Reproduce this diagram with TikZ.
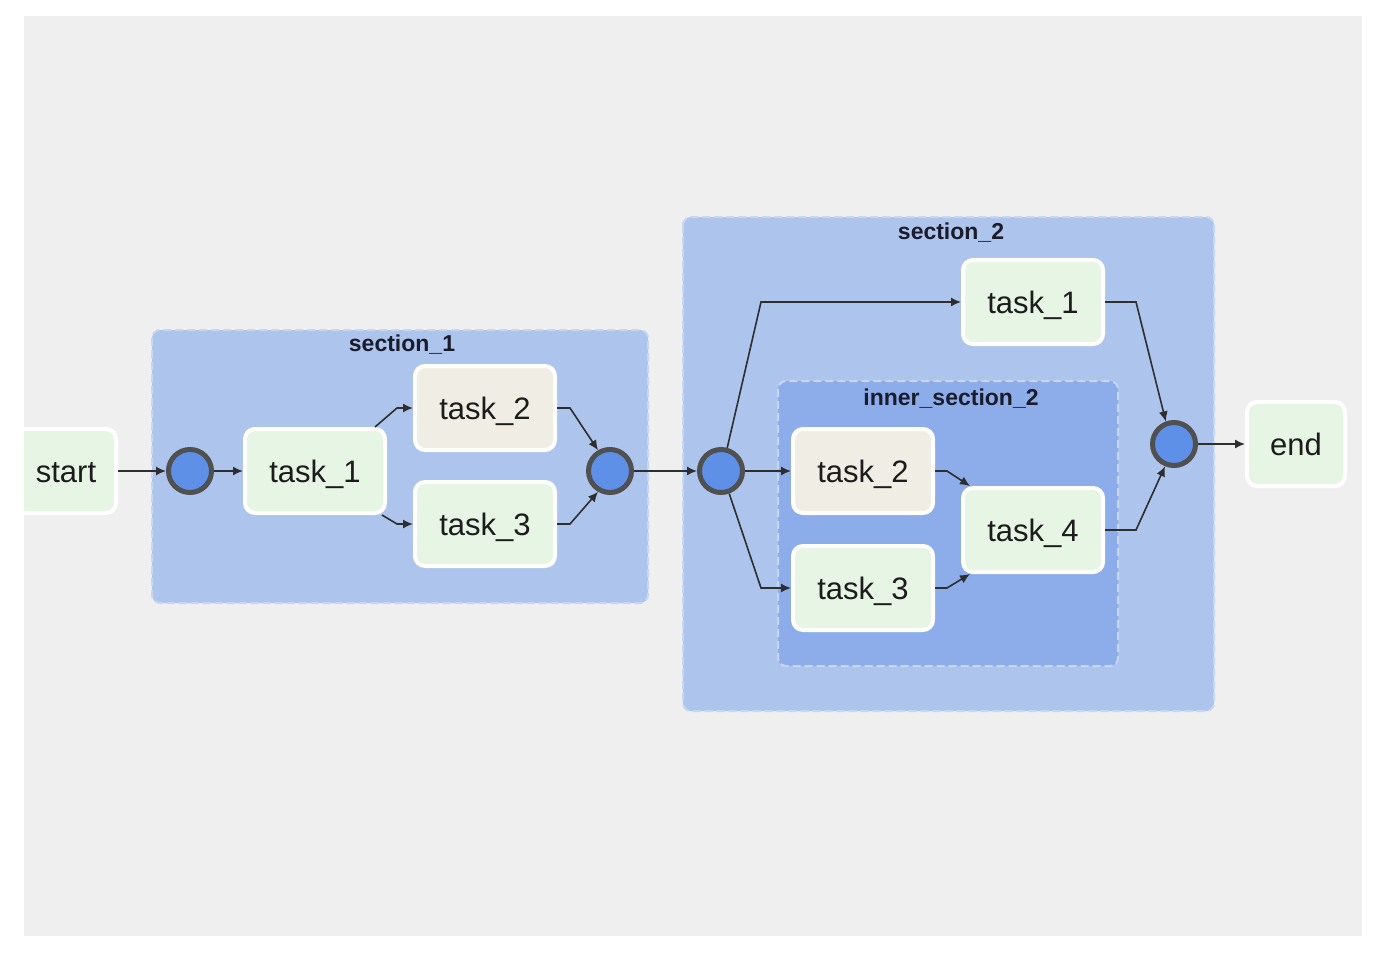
\documentclass[tikz,border=0pt]{standalone}
\usepackage{fontspec}
\setmainfont{Liberation Sans}
\usetikzlibrary{arrows.meta}
\definecolor{bggray}{HTML}{EFEFEF}
\definecolor{secfill}{HTML}{ADC4EC}
\definecolor{innerfill}{HTML}{8CADEA}
\definecolor{secborder}{HTML}{C8D6F2}
\definecolor{taskgreen}{HTML}{E6F5E4}
\definecolor{taskbeige}{HTML}{F0EDE5}
\definecolor{joinfill}{HTML}{5F90E8}
\definecolor{joinring}{HTML}{505050}
\definecolor{edgecol}{HTML}{2E2E2E}
\definecolor{txt}{HTML}{1C1C1C}
\definecolor{labtxt}{HTML}{1A1C2C}
\begin{document}
\begin{tikzpicture}[x=0.5pt,y=-0.5pt,
 task/.style={draw=white, line width=2pt, rounded corners=5pt, minimum width=70pt, minimum height=42pt, fill=taskgreen, font=\fontsize{15.5}{18}\selectfont, text=txt, inner sep=0pt, text height=11.3pt, text depth=0pt},
 beige/.style={fill=taskbeige},
 joinpt/.style={circle, draw=joinring, line width=2.5pt, fill=joinfill, minimum size=21.5pt, inner sep=0pt},
 sect/.style={fill=secfill, draw=secborder, line width=1pt, dash pattern=on 4pt off 2pt, rounded corners=4pt},
 innersect/.style={sect, fill=innerfill},
 seclabel/.style={font=\bfseries\fontsize{11.5}{13}\selectfont, text=labtxt},
 arr/.style={draw=edgecol, line width=0.8pt, -{Latex[length=5pt,width=4.5pt]}},
]
\useasboundingbox (0,0) rectangle (1384,952);
\fill[white] (0,0) rectangle (1384,952);
\fill[bggray] (24,16) rectangle (1362,936);

% sections
\draw[sect] (152,330) rectangle (648,603);
\node[seclabel] (s1lab) at (402,345) {section\_1};
\draw[sect] (683,217) rectangle (1214,711);
\node[seclabel] (s2lab) at (951,233) {section\_2};
\draw[innersect] (778,381) rectangle (1118,666);
\node[seclabel] (islab) at (951,399) {inner\_section\_2};

% nodes
\begin{scope}
\clip (24,16) rectangle (1362,936);
\node[task, minimum width=50pt] (start) at (66,471) {start};
\end{scope}
\node[joinpt] (c1) at (190,471) {};
\node[task] (s1t1) at (315,471) {task\_1};
\node[task, beige] (s1t2) at (485,408) {task\_2};
\node[task] (s1t3) at (485,524) {task\_3};
\node[joinpt] (c2) at (610,471) {};
\node[joinpt] (c3) at (721,471) {};
\node[task] (s2t1) at (1033,302) {task\_1};
\node[task, beige] (s2t2) at (863,471) {task\_2};
\node[task] (s2t3) at (863,588) {task\_3};
\node[task] (s2t4) at (1033,530) {task\_4};
\node[joinpt] (c4) at (1174,444) {};
\node[task, minimum width=49pt] (end) at (1296,444) {end};

% edges
\draw[arr] (start.east) -- (c1.west);
\draw[arr] (c1.east) -- (s1t1.west);
\draw[arr] ([xshift=-6pt]s1t1.north east) -- (397,408) -- (s1t2.west);
\draw[arr] ([xshift=-2.5pt]s1t1.south east) -- (397,524) -- (s1t3.west);
\draw[arr] (s1t2.east) -- (570,408) -- (c2.120);
\draw[arr] (s1t3.east) -- (570,524) -- (c2.240);
\draw[arr] (c2.east) -- (c3.west);
\draw[arr] (c3.75) -- (761,302) -- (s2t1.west);
\draw[arr] (c3.east) -- (s2t2.west);
\draw[arr] (c3.290) -- (761,588) -- (s2t3.west);
\draw[arr] (s2t2.east) -- (947,471) -- ([xshift=4.5pt]s2t4.north west);
\draw[arr] (s2t3.east) -- (947,588) -- ([xshift=4.5pt]s2t4.south west);
\draw[arr] (s2t1.east) -- (1136,302) -- (c4.110);
\draw[arr] (s2t4.east) -- (1136,530) -- (c4.248);
\draw[arr] (c4.east) -- (end.west);
\end{tikzpicture}
\end{document}
